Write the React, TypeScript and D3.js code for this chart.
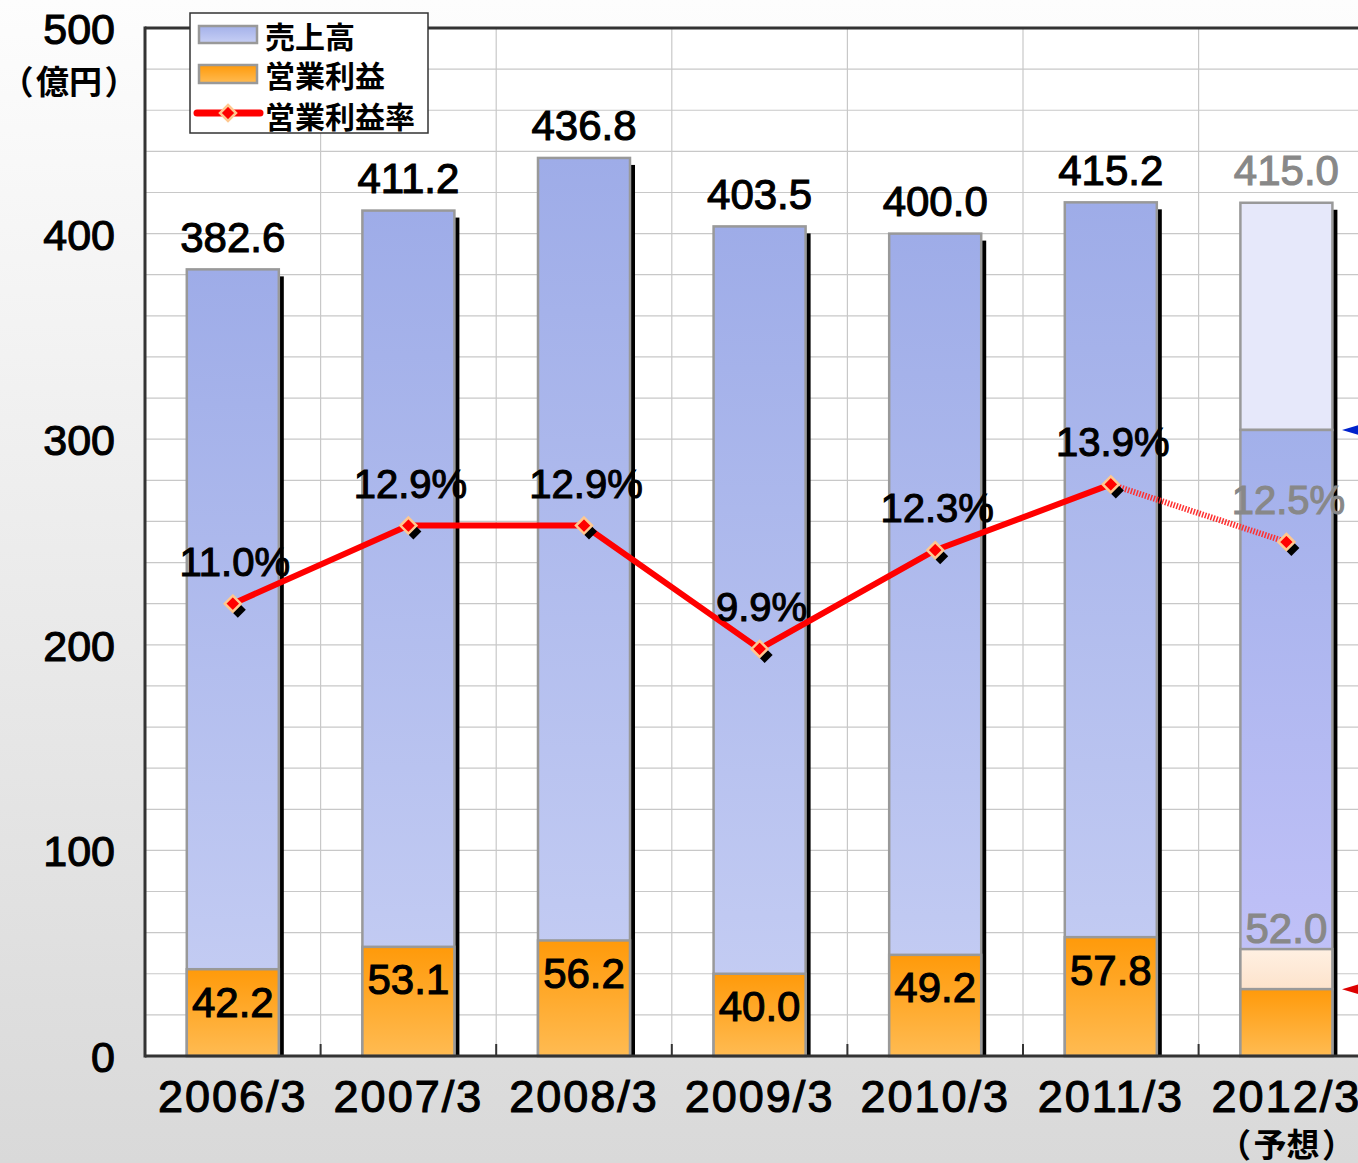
import React from "react";
import * as d3 from "d3";

const categories = ["2006/3", "2007/3", "2008/3", "2009/3", "2010/3", "2011/3", "2012/3"];
const sales = [382.6, 411.2, 436.8, 403.5, 400.0, 415.2, 415.0];
const opProfit = [42.2, 53.1, 56.2, 40.0, 49.2, 57.8, 52.0];
const margin = [11.0, 12.9, 12.9, 9.9, 12.3, 13.9, 12.5];
const forecastH1Sales = 304.5;
const forecastH1Op = 32.5;
const yTicks = [0, 100, 200, 300, 400, 500];
const legendLabels = ["売上高", "営業利益", "営業利益率"];

const W = 1358;
const H = 1163;
const X0 = 145;
const STEP = 175.6;
const Y0 = 1056;
const YTOP = 28;

const NUM_FONT = "'Liberation Sans', Arial, sans-serif";
const JP_FONT = "'Noto Sans CJK JP', sans-serif";

function Paren({ x, y, inner, size, gap }: { x: number; y: number; inner: string; size: number; gap: number }) {
  return (
    <g fontFamily={JP_FONT} fontWeight="bold" fontSize={size} textAnchor="middle" dominantBaseline="central">
      <text x={x - gap} y={y}>（</text>
      <text x={x} y={y}>{inner}</text>
      <text x={x + gap} y={y}>）</text>
    </g>
  );
}

export default function App() {
  const x = d3.scaleBand<string>().domain(categories).range([X0, X0 + STEP * categories.length]).padding(0);
  const y = d3.scaleLinear().domain([0, 500]).range([Y0, YTOP]);
  const y2 = d3.scaleLinear().domain([0, 25]).range([Y0, YTOP]);
  const bw = x.bandwidth() * 0.524;
  const cx = (c: string) => (x(c) as number) + x.bandwidth() / 2;
  const n = categories.length;
  const last = n - 1;

  const gridVals = d3.range(20, 500, 20);
  const linePts = margin.map((m, i) => [cx(categories[i]), y2(m)] as [number, number]);
  const line = d3.line();
  const solidPath = line(linePts.slice(0, last));
  const dotPath = line(linePts.slice(last - 1));

  const diamond = (px: number, py: number, r: number) =>
    `M${px},${py - r}L${px + r},${py}L${px},${py + r}L${px - r},${py}Z`;

  return (
    <svg width={W} height={H} style={{ position: "absolute", left: 0, top: 0 }}>
      <defs>
        <linearGradient id="bg" x1="0" y1="0" x2="0" y2="1">
          <stop offset="0" stopColor="#fdfdfd" />
          <stop offset="1" stopColor="#d9d9d9" />
        </linearGradient>
        <linearGradient id="blue" x1="0" y1="0" x2="0" y2="1">
          <stop offset="0" stopColor="#9eace8" />
          <stop offset="1" stopColor="#c7cff4" />
        </linearGradient>
        <linearGradient id="blue2" x1="0" y1="0" x2="0" y2="1">
          <stop offset="0" stopColor="#a2b0ea" />
          <stop offset="1" stopColor="#c6c4fa" />
        </linearGradient>
        <linearGradient id="orange" x1="0" y1="0" x2="0" y2="1">
          <stop offset="0" stopColor="#ff9a0a" />
          <stop offset="1" stopColor="#ffbb52" />
        </linearGradient>
        <linearGradient id="peach" x1="0" y1="0" x2="0" y2="1">
          <stop offset="0" stopColor="#fff0e2" />
          <stop offset="1" stopColor="#fde3cc" />
        </linearGradient>
        <linearGradient id="legBlue" x1="0" y1="0" x2="0" y2="1">
          <stop offset="0" stopColor="#a4b1ea" />
          <stop offset="1" stopColor="#c7cff4" />
        </linearGradient>
      </defs>
      <rect x={0} y={0} width={W} height={H} fill="url(#bg)" />
      {/* plot area */}
      <rect x={X0} y={YTOP} width={W - X0} height={Y0 - YTOP} fill="#ffffff" />
      {gridVals.map((v) => (
        <line key={"g" + v} x1={X0} x2={W} y1={y(v)} y2={y(v)} stroke="#c8c8c8" strokeWidth={1.2} />
      ))}
      {categories.slice(1).map((c) => (
        <line key={"vg" + c} x1={x(c) as number} x2={x(c) as number} y1={YTOP} y2={Y0} stroke="#c8c8c8" strokeWidth={1.2} />
      ))}

      {/* bars */}
      {categories.map((c, i) => {
        const bx = cx(c) - bw / 2;
        const top = y(sales[i]);
        const opTop = y(opProfit[i]);
        const isF = i === last;
        return (
          <g key={"b" + c}>
            <rect x={bx + 5} y={top + 7} width={bw} height={Y0 - top - 7} fill="#000" />
            {isF ? (
              <>
                <rect x={bx} y={top} width={bw} height={y(forecastH1Sales) - top} fill="#e6e8fa" stroke="#999" strokeWidth={2.5} />
                <rect x={bx} y={y(forecastH1Sales)} width={bw} height={Y0 - y(forecastH1Sales)} fill="url(#blue2)" stroke="#999" strokeWidth={2.5} />
                <rect x={bx} y={opTop} width={bw} height={y(forecastH1Op) - opTop} fill="url(#peach)" stroke="#999" strokeWidth={2.5} />
                <rect x={bx} y={y(forecastH1Op)} width={bw} height={Y0 - y(forecastH1Op)} fill="url(#orange)" stroke="#999" strokeWidth={2.5} />
              </>
            ) : (
              <>
                <rect x={bx} y={top} width={bw} height={Y0 - top} fill="url(#blue)" stroke="#999" strokeWidth={2.5} />
                <rect x={bx} y={opTop} width={bw} height={Y0 - opTop} fill="url(#orange)" stroke="#999" strokeWidth={2.5} />
              </>
            )}
          </g>
        );
      })}

      {/* axes frame */}
      <line x1={X0} x2={W} y1={YTOP} y2={YTOP} stroke="#333" strokeWidth={3} />
      <line x1={X0} x2={X0} y1={YTOP - 1.5} y2={Y0 + 1.5} stroke="#333" strokeWidth={3} />
      <line x1={X0} x2={W} y1={Y0} y2={Y0} stroke="#333" strokeWidth={3} />
      {categories.slice(1).map((c) => (
        <line key={"tk" + c} x1={x(c) as number} x2={x(c) as number} y1={Y0 - 12} y2={Y0} stroke="#333" strokeWidth={2} />
      ))}

      {/* right arrows */}
      <path d={`M1342,${y(forecastH1Sales)}L1362,${y(forecastH1Sales) - 6}L1362,${y(forecastH1Sales) + 6}Z`} fill="#0022cc" />
      <path d={`M1342,${y(forecastH1Op)}L1362,${y(forecastH1Op) - 6}L1362,${y(forecastH1Op) + 6}Z`} fill="#dd0000" />

      {/* margin line */}
      <path d={dotPath || ""} fill="none" stroke="#ff3030" strokeWidth={6} strokeDasharray="1.5 1.5" />
      <path d={solidPath || ""} fill="none" stroke="#ff0000" strokeWidth={6} strokeLinejoin="round" />
      {linePts.map(([px, py], i) => (
        <g key={"m" + i}>
          <path d={diamond(px + 5, py + 6, 8)} fill="#000" />
          <path d={diamond(px, py, 8)} fill="#ff0000" stroke="#ffc890" strokeWidth={2.5} />
        </g>
      ))}

      {/* labels */}
      {categories.map((c, i) => {
        const isF = i === last;
        const col = isF ? "#888888" : "#000000";
        const opLabelY = isF ? y(opProfit[i]) - 21 : y(opProfit[i]) + 33;
        return (
          <g key={"l" + c} fontFamily={NUM_FONT} textAnchor="middle" dominantBaseline="central" fill={col} stroke={col} strokeWidth={1.1}>
            <text x={cx(c)} y={y(sales[i]) - 32} fontSize={42}>{sales[i].toFixed(1)}</text>
            <text x={cx(c) + 2} y={y2(margin[i]) - 42} fontSize={40}>{margin[i].toFixed(1) + "%"}</text>
            <text x={cx(c)} y={opLabelY} fontSize={42}>{opProfit[i].toFixed(1)}</text>
            <text x={cx(c)} y={Y0 + 40} fontSize={45} fill="#000" stroke="#000" letterSpacing={2}>{c}</text>
          </g>
        );
      })}
      <Paren x={cx(categories[last])} y={1143} inner="予想" size={33} gap={52} />

      {/* y axis labels */}
      {yTicks.map((t) => (
        <text key={"yt" + t} x={115} y={y(t) + 1} fontFamily={NUM_FONT} fontSize={43} textAnchor="end" dominantBaseline="central" stroke="#000" strokeWidth={1.1}>{t}</text>
      ))}
      <Paren x={69} y={80} inner="億円" size={33} gap={52} />

      {/* legend */}
      <rect x={190} y={13} width={238} height={120} fill="#fff" stroke="#333" strokeWidth={1.5} />
      <rect x={199} y={26} width={58} height={17} fill="url(#legBlue)" stroke="#999" strokeWidth={2.5} />
      <rect x={199} y={65} width={58} height={18} fill="url(#orange)" stroke="#999" strokeWidth={2.5} />
      <line x1={197} x2={260} y1={113} y2={113} stroke="#ff0000" strokeWidth={7} strokeLinecap="round" />
      <path d={diamond(228, 113, 8)} fill="#ff0000" stroke="#ffc890" strokeWidth={2.5} />
      {legendLabels.map((l, i) => (
        <text key={"lg" + i} x={265} y={[35, 74, 115][i]} fontFamily={JP_FONT} fontWeight="bold" fontSize={30} dominantBaseline="central">{l}</text>
      ))}
    </svg>
  );
}
